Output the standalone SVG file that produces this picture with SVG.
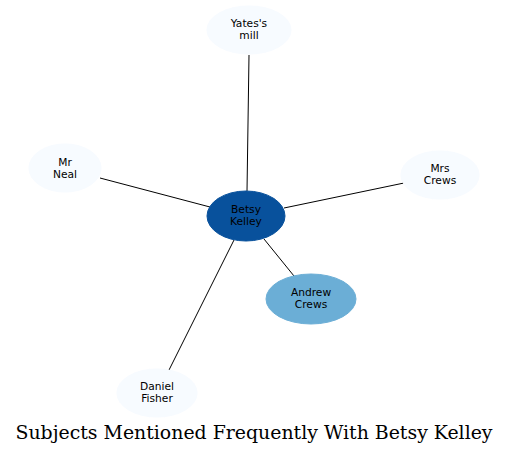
<svg xmlns="http://www.w3.org/2000/svg" width="509" height="455" viewBox="0 0 509 455">
<style>
.n text{font-family:"DejaVu Sans",sans-serif;font-size:10.67px;text-anchor:middle;fill:#000}
.light{fill:#f7fbff;stroke:#f7fbff}
.e line{stroke:#000;stroke-width:1}
.title{font-family:"DejaVu Serif",serif;font-size:18.9px;text-anchor:middle;fill:#000}
</style>
<rect width="509" height="455" fill="#fff"/>
<g id="edges" class="e">
<line x1="247" y1="191" x2="249" y2="55"/>
<line x1="210" y1="207" x2="100" y2="178"/>
<line x1="284" y1="208" x2="404" y2="183"/>
<line x1="264" y1="239" x2="294" y2="276"/>
<line x1="234" y1="240" x2="169" y2="370"/>
</g>
<g id="yates" class="n"><ellipse class="light" cx="249" cy="30" rx="42" ry="24"/><text x="249" y="26.5">Yates's</text><text x="249" y="38.5">mill</text></g>
<g id="mrneal" class="n"><ellipse class="light" cx="65" cy="168" rx="36" ry="24"/><text x="65" y="165.5">Mr</text><text x="65" y="177.5">Neal</text></g>
<g id="mrscrews" class="n"><ellipse class="light" cx="440" cy="175" rx="39" ry="24"/><text x="440" y="171.5">Mrs</text><text x="440" y="183.5">Crews</text></g>
<g id="betsy" class="n"><ellipse cx="246" cy="216" rx="39" ry="25" fill="#08519c" stroke="#08519c"/><text x="246" y="212.5">Betsy</text><text x="246" y="224.5">Kelley</text></g>
<g id="andrew" class="n"><ellipse cx="311" cy="299" rx="45" ry="25" fill="#6baed6" stroke="#6baed6"/><text x="311" y="295.5">Andrew</text><text x="311" y="307.5">Crews</text></g>
<g id="daniel" class="n"><ellipse class="light" cx="157" cy="393" rx="40" ry="24"/><text x="157" y="389.5">Daniel</text><text x="157" y="401.5">Fisher</text></g>
<text class="title" x="254" y="439">Subjects Mentioned Frequently With Betsy Kelley</text>
</svg>
